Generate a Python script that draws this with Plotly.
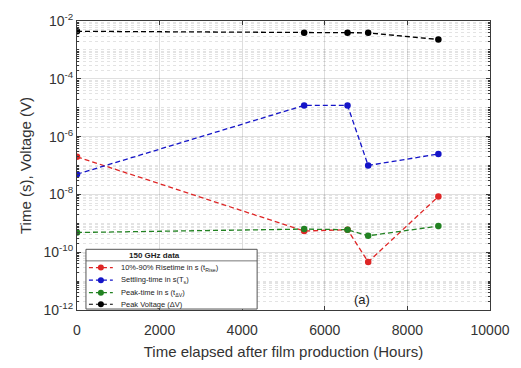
import plotly.graph_objects as go

# Hours elapsed since the film was produced
hours = [0, 5500, 6550, 7050, 8750]

# 150 GHz measurements
rise_time = [2.0e-7, 5.4e-10, 6.0e-10, 4.6e-11, 8.5e-9]      # 10%-90% risetime (s)
settling_time = [5.0e-8, 1.2e-5, 1.2e-5, 1.0e-7, 2.5e-7]     # settling time (s)
peak_time = [4.8e-10, 6.3e-10, 6.0e-10, 3.7e-10, 8.0e-10]    # peak time (s)
peak_voltage = [4.4e-3, 3.9e-3, 3.9e-3, 3.9e-3, 2.3e-3]      # peak voltage (V)

series_names = [
    "10%-90% Risetime in s (t<sub>Rise</sub>)",
    "Settling-time in s(T<sub>s</sub>)",
    "Peak-time in s (t<sub>ΔV</sub>)",
    "Peak Voltage (ΔV)",
]
series_values = [rise_time, settling_time, peak_time, peak_voltage]
series_colors = ["rgb(222,38,38)", "rgb(20,20,200)", "rgb(34,130,34)", "rgb(0,0,0)"]

x_ticks = [0, 2000, 4000, 6000, 8000, 10000]
labelled_decades = [-12, -10, -8, -6, -4, -2]
all_decades = list(range(-12, -1))

W, H = 521, 368
L, R, T, B = 77, 29, 11, 57
PW, PH = W - L - R, H - T - B


def px(x):
    return (x - L) / PW


def py(y):
    return (H - B - y) / PH


fig = go.Figure()
for name, vals, col in zip(series_names, series_values, series_colors):
    fig.add_trace(go.Scatter(
        x=hours, y=vals, mode="lines+markers", name=name,
        line=dict(color=col, width=1.3, dash="5px,3px"),
        marker=dict(color=col, size=6.5),
        showlegend=False,
    ))

font_family = "Liberation Sans, Arial, sans-serif"
axis_col = "#3a3a3a"

y_major = [10.0 ** e for e in labelled_decades]
y_text = [f"10<sup>{e}</sup>" for e in labelled_decades]
# unlabelled odd decades plus the 2..9 subdivisions of every decade
y_minor = sorted(
    [10.0 ** e for e in all_decades if e not in labelled_decades]
    + [k * 10.0 ** e for e in all_decades[:-1] for k in range(2, 10)]
)

fig.update_layout(
    width=W, height=H,
    margin=dict(l=L, r=R, t=T, b=B),
    paper_bgcolor="white", plot_bgcolor="white",
    font=dict(family=font_family, color="#222"),
    xaxis=dict(
        range=[0, 10000], tickvals=x_ticks, ticktext=[str(v) for v in x_ticks],
        ticks="inside", ticklen=4, tickcolor=axis_col, ticklabelstandoff=7,
        showline=True, linecolor=axis_col, linewidth=1, mirror="ticks",
        showgrid=True, gridcolor="rgba(0,0,0,0.13)", gridwidth=1,
        zeroline=False, tickfont=dict(size=14, color="#333"),
        title=dict(text="Time elapsed after film production (Hours)",
                   font=dict(size=15, color="#333"), standoff=9),
    ),
    yaxis=dict(
        type="log", range=[-12, -2], tickmode="array",
        tickvals=y_major, ticktext=y_text,
        ticks="inside", ticklen=4, tickcolor=axis_col,
        showline=True, linecolor=axis_col, linewidth=1, mirror="ticks",
        showgrid=True, gridcolor="rgba(0,0,0,0.12)", gridwidth=1,
        zeroline=False, tickfont=dict(size=14, color="#333"),
        minor=dict(tickvals=y_minor, ticks="inside", ticklen=2, tickcolor=axis_col,
                   showgrid=True, gridcolor="rgba(0,0,0,0.11)", griddash="dot"),
        title=dict(text="Time (s), Voltage (V)", font=dict(size=15, color="#333"), standoff=8),
    ),
)

# Legend box drawn in paper coordinates
box_x0, box_x1, box_y0, box_y1 = 86, 258, 248, 310
fig.add_shape(type="rect", xref="paper", yref="paper",
              x0=px(box_x0), x1=px(box_x1), y0=py(box_y1), y1=py(box_y0),
              line=dict(color="#555", width=1), fillcolor="white", layer="above")
fig.add_shape(type="line", xref="paper", yref="paper",
              x0=px(box_x0), x1=px(box_x1), y0=py(260), y1=py(260),
              line=dict(color="#555", width=0.8), layer="above")
fig.add_annotation(xref="paper", yref="paper", x=px(155), y=py(254),
                   text="<b>150 GHz data</b>", showarrow=False,
                   font=dict(size=8, color="#222"), xanchor="center", yanchor="middle")

rows = [267, 280, 293, 305]
for name, col, ry in zip(series_names, series_colors, rows):
    fig.add_shape(type="line", xref="paper", yref="paper",
                  x0=px(89), x1=px(113), y0=py(ry), y1=py(ry),
                  line=dict(color=col, width=1.1, dash="4px,3px"), layer="above")
    fig.add_shape(type="circle", xref="paper", yref="paper",
                  xsizemode="pixel", ysizemode="pixel",
                  xanchor=px(101), yanchor=py(ry),
                  x0=-3, x1=3, y0=-3, y1=3,
                  fillcolor=col, line=dict(color=col, width=0), layer="above")
    fig.add_annotation(xref="paper", yref="paper", x=px(119), y=py(ry),
                       text=name, showarrow=False, xanchor="left", yanchor="middle",
                       font=dict(size=7.5, color="#222"))

fig.add_annotation(xref="paper", yref="paper", x=px(363), y=py(300),
                   text="(a)", showarrow=False, font=dict(size=13, color="#222"),
                   xanchor="center", yanchor="middle")

fig.write_html("out.html")
